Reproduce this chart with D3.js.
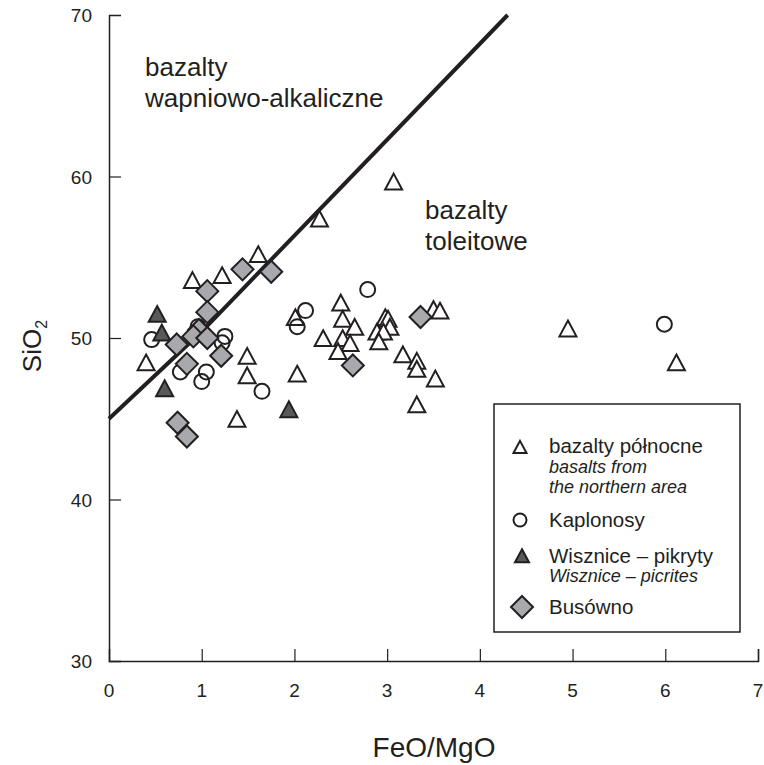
<!DOCTYPE html>
<html>
<head>
<meta charset="utf-8">
<script src="https://cdn.jsdelivr.net/npm/d3@7"></script>
<style>
  body { margin: 0; background: #fff; }
  text { font-family: "Liberation Sans", Arial, sans-serif; fill: #231f20; }
</style>
</head>
<body>
<script>
// data: [FeO/MgO, SiO2]
const northBasalts = [
  [0.40, 48.4], [0.90, 53.5], [1.22, 53.8], [1.61, 55.1], [2.27, 57.3], [3.07, 59.6],
  [1.38, 44.9], [1.49, 48.8], [1.49, 47.6], [2.03, 47.7], [2.01, 51.2], [2.31, 49.9],
  [2.50, 52.1], [2.52, 51.1], [2.65, 50.6], [2.52, 49.9], [2.60, 49.6], [2.47, 49.1],
  [2.98, 51.2], [3.01, 51.1], [3.03, 50.6], [2.89, 50.3], [2.96, 50.3], [2.91, 49.7],
  [3.50, 51.7], [3.57, 51.6], [3.17, 48.9], [3.32, 48.5], [3.32, 48.0], [3.52, 47.4],
  [3.32, 45.8], [4.95, 50.5], [6.12, 48.4]
];
const kaplonosy = [
  [0.46, 49.9], [0.96, 50.7], [1.25, 50.1], [1.22, 49.7], [0.77, 47.9], [1.05, 47.9],
  [1.00, 47.3], [1.65, 46.7], [2.03, 50.7], [2.12, 51.7], [2.79, 53.0], [5.99, 50.85]
];
const picrites = [[0.52, 51.4], [0.57, 50.25], [0.60, 46.8], [1.94, 45.5]];
const busowno = [
  [1.44, 54.25], [1.75, 54.1], [1.06, 52.9], [1.06, 51.6], [0.97, 50.5], [0.91, 50.1],
  [1.06, 50.0], [0.73, 49.6], [0.84, 48.4], [1.21, 48.9], [0.74, 44.75], [0.84, 43.9],
  [2.63, 48.3], [3.36, 51.3]
];
// dividing line between the two fields
const boundary = [[0, 45], [1, 50.4], [4.3, 70]];

const xTicks = [0, 1, 2, 3, 4, 5, 6, 7];
const yTicks = [30, 40, 50, 60, 70];

const width = 764, height = 765;
const ink = "#231f20";

const svg = d3.select("body").append("svg")
  .attr("width", width)
  .attr("height", height);

const x = d3.scaleLinear().domain([0, 7]).range([109, 758]);
const y = d3.scaleLinear().domain([30, 70]).range([661, 15]);

// dividing line (under the markers)
svg.append("path")
  .datum(boundary)
  .attr("d", d3.line().x(d => x(d[0])).y(d => y(d[1])))
  .attr("fill", "none")
  .attr("stroke", ink)
  .attr("stroke-width", 4);

// axes
const xAxis = svg.append("g")
  .attr("transform", `translate(0,${y(30)})`)
  .call(d3.axisTop(x).tickValues(xTicks.slice(1)).tickSize(12).tickFormat(""));
const yAxis = svg.append("g")
  .attr("transform", `translate(${x(0)},0)`)
  .call(d3.axisRight(y).tickValues(yTicks.slice(1, -1)).tickSize(12).tickFormat(""));
[xAxis, yAxis].forEach(a => {
  a.select(".domain").attr("stroke", ink).attr("stroke-width", 1.5);
  a.selectAll(".tick line").attr("stroke", ink).attr("stroke-width", 1.2);
});

svg.append("g").selectAll("text")
  .data(xTicks).join("text")
  .attr("x", d => x(d))
  .attr("y", 697)
  .attr("text-anchor", "middle")
  .attr("font-size", 19)
  .text(d => d);

svg.append("g").selectAll("text")
  .data(yTicks).join("text")
  .attr("x", 92)
  .attr("y", d => y(d) + 7)
  .attr("text-anchor", "end")
  .attr("font-size", 19)
  .text(d => d);

// axis titles
svg.append("text")
  .attr("x", 434)
  .attr("y", 757)
  .attr("text-anchor", "middle")
  .attr("font-size", 28)
  .text("FeO/MgO");

const yTitle = svg.append("text")
  .attr("transform", "translate(41,346) rotate(-90)")
  .attr("text-anchor", "middle")
  .attr("font-size", 26);
yTitle.append("tspan").text("SiO");
yTitle.append("tspan").attr("font-size", 16).attr("dy", 6).text("2");

// field labels
const fieldLabel = (px, py, lines) => {
  lines.forEach((t, i) => {
    svg.append("text")
      .attr("x", px)
      .attr("y", py + i * 31)
      .attr("font-size", 26)
      .text(t);
  });
};
fieldLabel(145, 76, ["bazalty", "wapniowo-alkaliczne"]);
fieldLabel(425, 219, ["bazalty", "toleitowe"]);

// marker shapes
const triPath = s => `M0,${-s * 0.55}L${s * 0.5},${s * 0.38}L${-s * 0.5},${s * 0.38}Z`;
const diaPath = s => `M0,${-s / 2}L${s / 2},0L0,${s / 2}L${-s / 2},0Z`;

const drawPaths = (data, d, fill) => {
  svg.append("g").selectAll("path")
    .data(data).join("path")
    .attr("transform", p => `translate(${x(p[0])},${y(p[1])})`)
    .attr("d", d)
    .attr("fill", fill)
    .attr("stroke", ink)
    .attr("stroke-width", 2)
    .attr("stroke-linejoin", "miter");
};

drawPaths(northBasalts, triPath(17), "#fff");

svg.append("g").selectAll("circle")
  .data(kaplonosy).join("circle")
  .attr("cx", p => x(p[0]))
  .attr("cy", p => y(p[1]))
  .attr("r", 7.5)
  .attr("fill", "none")
  .attr("stroke", ink)
  .attr("stroke-width", 2);

drawPaths(picrites, triPath(17), "#58595b");
drawPaths(busowno, diaPath(22), "#a7a9ac");

// legend
const legend = svg.append("g");
legend.append("rect")
  .attr("x", 494).attr("y", 404)
  .attr("width", 246).attr("height", 228)
  .attr("fill", "#fff")
  .attr("stroke", ink)
  .attr("stroke-width", 1.5);

const lg = (shape, cx, cy, fill) => {
  const el = shape === "circle"
    ? legend.append("circle").attr("cx", cx).attr("cy", cy).attr("r", 6.5)
    : legend.append("path").attr("transform", `translate(${cx},${cy})`).attr("d", shape);
  el.attr("fill", fill).attr("stroke", ink).attr("stroke-width", 2);
};
const lt = (ty, t, italic, size) => {
  legend.append("text")
    .attr("x", 549).attr("y", ty)
    .attr("font-size", size)
    .attr("font-style", italic ? "italic" : "normal")
    .text(t);
};

lg(triPath(13), 520, 448, "#fff");
lt(453, "bazalty północne", false, 20.5);
lt(473, "basalts from", true, 18);
lt(493, "the northern area", true, 18);
lg("circle", 520, 520, "#fff");
lt(527, "Kaplonosy", false, 20.5);
lg(triPath(14), 522, 557, "#58595b");
lt(563, "Wisznice – pikryty", false, 20.5);
lt(582, "Wisznice – picrites", true, 18);
lg(diaPath(22), 522, 607, "#a7a9ac");
lt(614, "Busówno", false, 20.5);
</script>
</body>
</html>
